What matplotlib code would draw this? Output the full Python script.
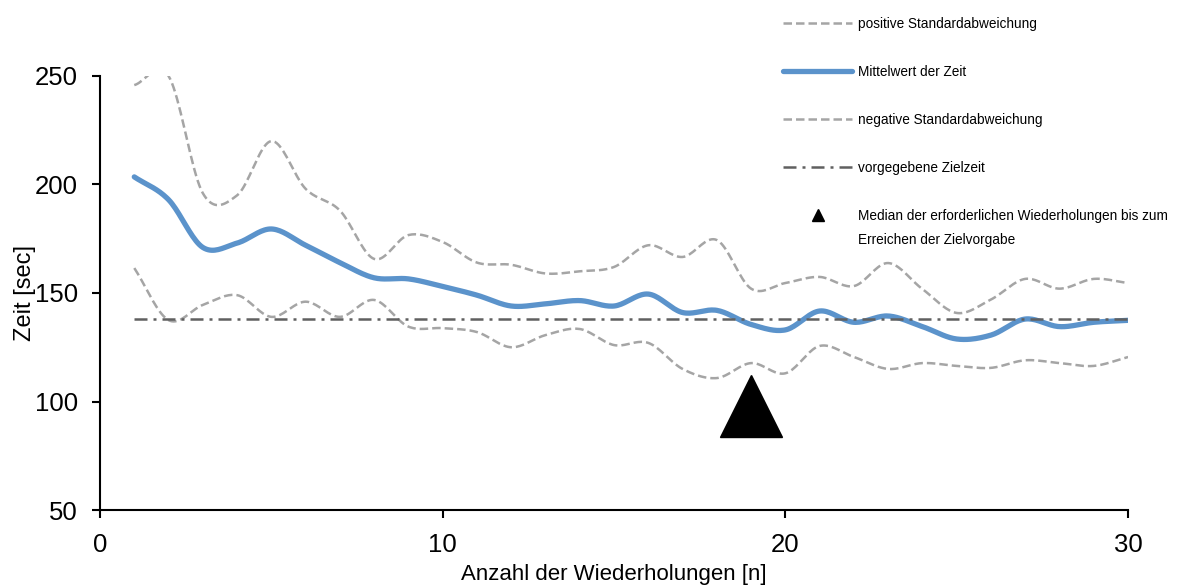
import numpy as np
import matplotlib.pyplot as plt
from matplotlib.lines import Line2D

plt.rcParams['font.family'] = ['Liberation Sans', 'DejaVu Sans']

# Daten
wiederholungen = list(range(1, 31))
mittelwert = [203.5, 193, 171, 173, 179.5, 172, 164, 157, 156.5, 153,
              149, 144, 145, 146.5, 144, 149.5, 141, 142, 135.5, 133,
              141.7, 136.5, 139.4, 134.5, 128.8, 130.6, 138, 134.5, 136.5, 137.4]
pos_std = [245.8, 250, 196, 195, 220, 198, 188, 165.7, 176.7, 173.5,
           164, 163, 159, 160, 162, 172, 166.6, 174.4, 152, 154.6,
           157.4, 153.2, 163.8, 151.8, 140.8, 147, 156.5, 152, 156.5, 154.6]
neg_std = [161.5, 137.5, 144.5, 149, 139, 146, 139, 146.8, 134.5, 133.8,
           132, 125, 130.6, 133.4, 126, 127, 115, 110.8, 117.7, 113,
           125.6, 120.5, 115, 117.7, 116.4, 115.5, 119, 117.7, 116.4, 120.5]
zielzeit = 138
median_n = 19
median_y = 98


def catmull_rom(x, y, n=20): # geglaettete Linie wie in Excel
    x = np.asarray(x, float)
    y = np.asarray(y, float)
    px = np.concatenate([[2 * x[0] - x[1]], x, [2 * x[-1] - x[-2]]])
    py = np.concatenate([[2 * y[0] - y[1]], y, [2 * y[-1] - y[-2]]])
    xs, ys = [], []
    t = np.linspace(0, 1, n, endpoint=False)
    for i in range(1, len(px) - 2):
        p0, p1, p2, p3 = py[i - 1], py[i], py[i + 1], py[i + 2]
        q0, q1, q2, q3 = px[i - 1], px[i], px[i + 1], px[i + 2]
        ys.append(0.5 * (2 * p1 + (-p0 + p2) * t + (2 * p0 - 5 * p1 + 4 * p2 - p3) * t ** 2 + (-p0 + 3 * p1 - 3 * p2 + p3) * t ** 3))
        xs.append(0.5 * (2 * q1 + (-q0 + q2) * t + (2 * q0 - 5 * q1 + 4 * q2 - q3) * t ** 2 + (-q0 + 3 * q1 - 3 * q2 + q3) * t ** 3))
    xs.append([x[-1]])
    ys.append([y[-1]])
    return np.concatenate(xs), np.concatenate(ys)


fig = plt.figure(figsize=(11.78, 5.85), dpi=100)
ax = fig.add_axes([0.0849, 0.1282, 0.8727, 0.7419])

grey = '#A5A5A5'
blue = '#5B93CB'
dunkel = '#606060'
std_dash = (3.4, 1.6)
ziel_dash = (5.2, 2.4, 1.2, 2.4)

sx, sy = catmull_rom(wiederholungen, pos_std)
ax.plot(sx, sy, color=grey, lw=1.8, dashes=std_dash)
sx, sy = catmull_rom(wiederholungen, mittelwert)
ax.plot(sx, sy, color=blue, lw=3.8, solid_capstyle='round')
sx, sy = catmull_rom(wiederholungen, neg_std)
ax.plot(sx, sy, color=grey, lw=1.8, dashes=std_dash)
ax.plot([wiederholungen[0], wiederholungen[-1]], [zielzeit, zielzeit], color=dunkel, lw=1.8,
        dashes=ziel_dash)
ax.plot([median_n], [median_y], marker='^', color='black', markersize=44, ls='none')

ax.set_xlim(0, 30)
ax.set_ylim(50, 250)
ax.set_xticks([0, 10, 20, 30])
ax.set_yticks([50, 100, 150, 200, 250])
ax.spines['top'].set_visible(False)
ax.spines['right'].set_visible(False)
ax.spines['left'].set_linewidth(1.5)
ax.spines['bottom'].set_linewidth(1.5)
ax.tick_params(direction='out', length=6, width=1.5, labelsize=18.5)
ax.tick_params(axis='x', pad=10.5)
ax.tick_params(axis='y', pad=10)
ax.set_xlabel('Anzahl der Wiederholungen [n]', fontsize=16)
ax.xaxis.set_label_coords(0.5, -0.124)
ax.set_ylabel('Zeit [sec]', fontsize=17)
ax.yaxis.set_label_coords(-0.062, 0.5)

handles = [
    Line2D([], [], color=grey, lw=1.8, dashes=std_dash),
    Line2D([], [], color=blue, lw=3.8, solid_capstyle='round'),
    Line2D([], [], color=grey, lw=1.8, dashes=std_dash),
    Line2D([], [], color=dunkel, lw=1.8, dashes=ziel_dash),
    Line2D([], [], color='black', marker='^', markersize=9, ls='none'),
]
labels = ['positive Standardabweichung', 'Mittelwert der Zeit', 'negative Standardabweichung',
          'vorgegebene Zielzeit', 'Median der erforderlichen Wiederholungen bis zum']
fs = 9.8
fig.legend(handles, labels, loc='upper left', bbox_to_anchor=(0.6533, 0.995), frameon=False,
           prop={'size': fs}, handlelength=5.05, handletextpad=0.45, labelspacing=2.5,
           borderpad=0.45, borderaxespad=0.56)
fig.text(858 / 1178, 1 - 240 / 585, 'Erreichen der Zielvorgabe', fontsize=fs, va='center', ha='left')

fig.savefig('out.png', dpi=100)
